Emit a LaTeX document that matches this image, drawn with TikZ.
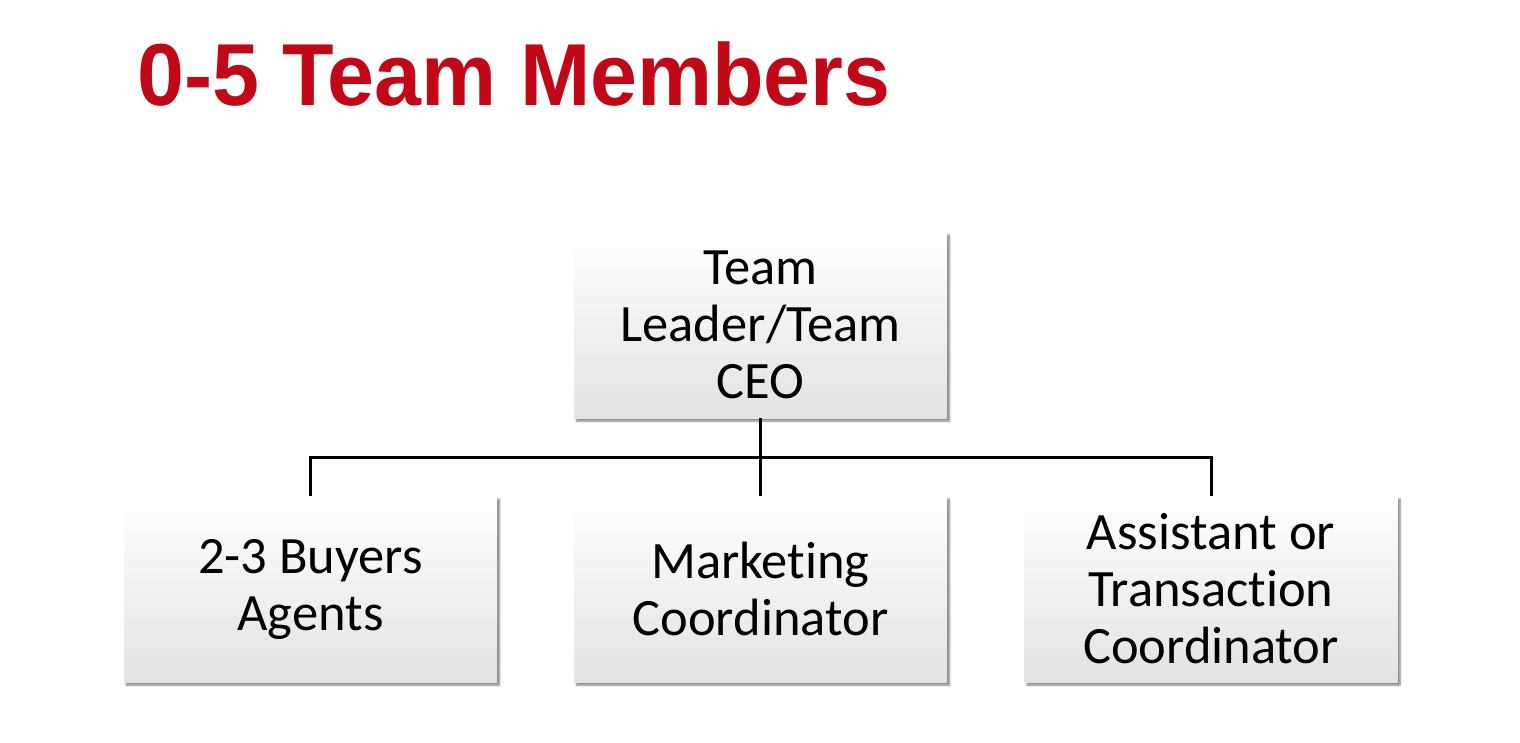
\documentclass[tikz,border=0pt]{standalone}
\usepackage{fontspec}
\setmainfont{Carlito}[Ligatures={NoCommon}, RawFeature={-liga}]
\newfontfamily\titlefont{Liberation Sans}
\usetikzlibrary{shadows.blur,calc}
\definecolor{titlered}{RGB}{192,8,22}
\tikzset{
  orgbox/.style={rectangle, inner sep=0pt, minimum width=373pt, minimum height=186pt,
    top color=white, middle color=white, bottom color=black!11,
    blur shadow={shadow xshift=2.5pt, shadow yshift=-3pt, shadow blur steps=6, shadow opacity=50},
    align=center, font=\fontsize{52.5}{57}\selectfont},
  link/.style={line width=3pt, draw=black}
}
\begin{document}
\begin{tikzpicture}[x=1pt,y=-1pt]
\useasboundingbox (0,0) rectangle (1520,742);
\node[anchor=base west, inner sep=0pt, text=titlered, font=\titlefont\bfseries\fontsize{88}{88}\selectfont] (title) at (137,105) {\scalebox{0.959}[1]{0-5 Team Members}};
\node[orgbox] (ceo) at (760.5,325) {Team\\Leader/Team\\CEO};
\node[orgbox] (agents) at (310.5,589) {2-3 Buyers\\Agents};
\node[orgbox] (mkt) at (760.5,589) {Marketing\\Coordinator};
\node[orgbox] (asst) at (1211,589) {Assistant or\\Transaction\\Coordinator};
\coordinate (bar) at (760.5,457);
\draw[link] (ceo.south) -- (mkt.north);
\draw[link] (agents.north) -- (agents.north |- bar) -- (asst.north |- bar) -- (asst.north);
\end{tikzpicture}
\end{document}
